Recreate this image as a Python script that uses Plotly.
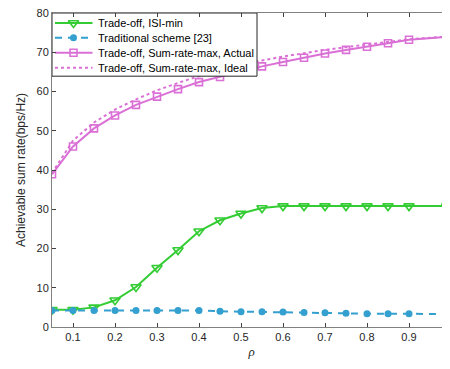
import plotly.graph_objects as go

rho = [0.05, 0.1, 0.15, 0.2, 0.25, 0.3, 0.35, 0.4, 0.45, 0.5, 0.55, 0.6, 0.65, 0.7, 0.75, 0.8, 0.85, 0.9, 0.99]
isi_min = [4.4, 4.4, 5.0, 6.8, 10.2, 15.1, 19.6, 24.4, 27.2, 28.9, 30.3, 30.8, 30.8, 30.8, 30.8, 30.8, 30.8, 30.8, 30.8]
traditional = [4.2, 4.2, 4.2, 4.2, 4.2, 4.2, 4.2, 4.2, 4.0, 3.9, 3.9, 3.8, 3.7, 3.6, 3.5, 3.4, 3.4, 3.4, 3.3]
actual = [38.9, 46.0, 50.6, 53.9, 56.6, 58.7, 60.6, 62.4, 63.7, 65.1, 66.4, 67.5, 68.6, 69.7, 70.6, 71.4, 72.3, 73.2, 73.9]
ideal = [39.2, 47.5, 52.1, 55.4, 58.0, 60.3, 62.2, 63.9, 65.3, 66.6, 67.9, 68.9, 69.8, 70.6, 71.3, 72.0, 72.7, 73.3, 74.0]

names = ["Trade-off, ISI-min", "Traditional scheme [23]",
         "Trade-off, Sum-rate-max, Actual", "Trade-off, Sum-rate-max, Ideal"]

GREEN = "rgb(51,204,51)"
BLUE = "rgb(51,160,208)"
MAG = "rgb(218,112,214)"

# page body has an 8px margin; compensate so the plot lands where the reference has it
OFF = 8
W, H = 450, 369
PL, PR, PT, PB = 52, 451, 12.7, 327.3  # plot area in window pixels
ML, MR, MT, MB = PL - OFF, W - (PR - OFF), PT - OFF, H - (PB - OFF)

styles = [
    dict(mode="lines+markers", line=dict(color=GREEN, width=2),
         marker=dict(symbol="triangle-down-open", size=9, color=GREEN, line=dict(width=1.6))),
    dict(mode="lines+markers", line=dict(color=BLUE, width=2, dash="7px,6px"),
         marker=dict(symbol="circle", size=7, color=BLUE)),
    dict(mode="lines+markers", line=dict(color=MAG, width=2),
         marker=dict(symbol="square-open", size=7, color=MAG, line=dict(width=1.6))),
    dict(mode="lines", line=dict(color=MAG, width=2, dash="dot")),
]
series = [isi_min, traditional, actual, ideal]

fig = go.Figure()
for nm, ys, st in zip(names, series, styles):
    fig.add_trace(go.Scatter(x=rho, y=ys, name=nm, showlegend=False, hoverinfo="skip", **st))

# ---- custom compact legend drawn on an overlay axis in window-pixel units ----
bx0, bx1, by0, by1 = 52, 257, 12.7, 76
fig.add_trace(go.Scatter(x=[bx0, bx1, bx1, bx0, bx0], y=[by0, by0, by1, by1, by0],
                         xaxis="x2", yaxis="y2", mode="lines", fill="toself",
                         fillcolor="white", line=dict(color="#262626", width=1),
                         showlegend=False, hoverinfo="skip"))
row_y = [22.7, 37.5, 52.5, 67.5]
for nm, st, ry in zip(names, styles, row_y):
    fig.add_trace(go.Scatter(x=[55, 92.5], y=[ry, ry], xaxis="x2", yaxis="y2",
                             mode="lines", line=st["line"], showlegend=False, hoverinfo="skip"))
    if "markers" in st["mode"]:
        fig.add_trace(go.Scatter(x=[73.5], y=[ry], xaxis="x2", yaxis="y2",
                                 mode="markers", marker=st["marker"], showlegend=False, hoverinfo="skip"))
    fig.add_annotation(x=95.5, y=ry, xref="x2", yref="y2", text=nm, showarrow=False,
                       xanchor="left", yanchor="middle",
                       font=dict(family="Liberation Sans, Arial", size=11, color="#000000"))

axis_common = dict(showline=True, linecolor="#808080", linewidth=1, mirror="ticks",
                   ticks="inside", ticklen=4, tickcolor="#404040", showgrid=False, zeroline=False,
                   automargin=False, ticklabeloverflow="allow",
                   tickfont=dict(family="Liberation Sans, Arial", size=11, color="#262626"))

xaxis = dict(range=[0.05, 1.0], tick0=0, dtick=0.1, tickformat=".1~f",
             title=dict(text="<i>ρ</i>", font=dict(family="Liberation Serif, Times New Roman", size=13, color="#262626"), standoff=4),
             **axis_common)
yaxis = dict(range=[0, 80], dtick=10,
             title=dict(text="Achievable sum rate(bps/Hz)", font=dict(family="Liberation Sans, Arial", size=12, color="#262626"), standoff=8),
             **axis_common)

fig.update_layout(
    width=W, height=H,
    margin=dict(l=ML, r=MR, t=MT, b=MB, pad=0),
    plot_bgcolor="white", paper_bgcolor="white",
    showlegend=False,
    xaxis=xaxis, yaxis=yaxis,
    xaxis2=dict(overlaying="x", range=[PL, PR], visible=False, fixedrange=True),
    yaxis2=dict(overlaying="y", range=[PB, PT], visible=False, fixedrange=True),
)

fig.write_html("out.html")
